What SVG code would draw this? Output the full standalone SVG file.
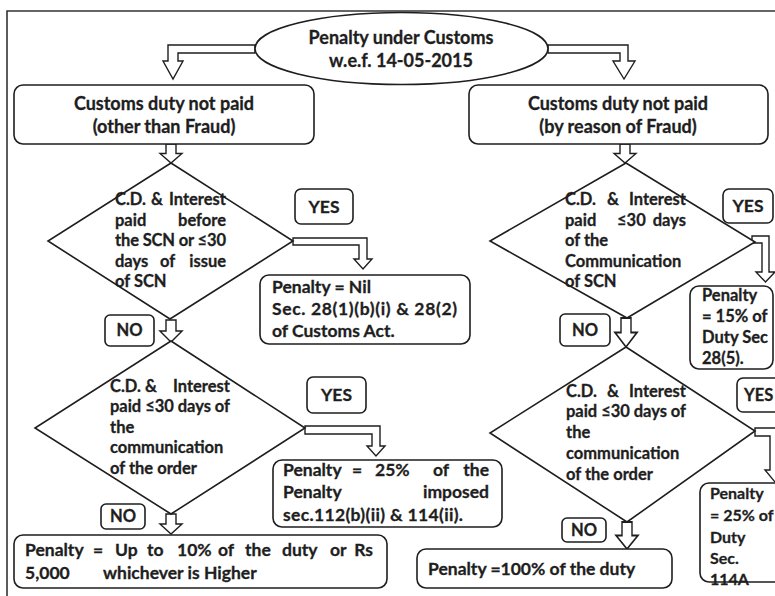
<svg xmlns="http://www.w3.org/2000/svg" width="775" height="596" viewBox="0 0 775 596">
<style>
  .shape { fill: #ffffff; stroke: #1e1e1e; stroke-width: 1.6; }
  .arrow { fill: #ffffff; stroke: #1e1e1e; stroke-width: 1.4; stroke-linejoin: miter; }
  .frame { fill: none; stroke: #333333; stroke-width: 1.6; }
  text { font-family: Lato, "Liberation Sans", sans-serif; font-weight: bold; font-size: 17.5px; fill: #1e1e1e; stroke: #1e1e1e; stroke-width: 0.3; }
  .big { font-size: 18px; }
  .sm { font-size: 16.5px; }
  .xs { font-size: 16px; }
  .c { text-anchor: middle; }
  .e { text-anchor: end; }
</style>
<defs>
  <path id="vArrow" d="M -5 0 H 5 V 10 H 11 L 0 20 L -11 10 H -5 Z"/>
</defs>
<rect width="775" height="596" fill="#ffffff" stroke="none"/>
<path class="frame" d="M 7 596 V 11 H 776"/>

<g id="connectors">
  <polygon class="arrow" points="255,45 168,45 168,61 163,61 173,79 183,61 178,61 178,53 255,53"/>
  <polygon class="arrow" points="548,45 628,45 628,61 635,61 624,79 613,61 620,61 620,53 548,53"/>
  <use href="#vArrow" class="arrow" transform="translate(171,144) scale(1,0.95)"/>
  <use href="#vArrow" class="arrow" transform="translate(625,144) scale(1,0.95)"/>
  <use href="#vArrow" class="arrow" transform="translate(171,320) scale(1,1.1)"/>
  <use href="#vArrow" class="arrow" transform="translate(626,318) scale(1,1.45)"/>
  <use href="#vArrow" class="arrow" transform="translate(171,514) scale(1,1)"/>
  <use href="#vArrow" class="arrow" transform="translate(627,522) scale(1,1.35)"/>
  <polygon class="arrow" points="293,238 367,238 367,259 372,259 363,269 354,259 359,259 359,245 293,245"/>
  <polygon class="arrow" points="305,426 380,426 380,446 385,446 376,456 367,446 372,446 372,434 305,434"/>
  <polygon class="arrow" points="752,236 769,236 769,272 775,272 765.5,282 756,272 762,272 762,243 752,243"/>
  <polygon class="arrow" points="755,428 780,428 780,470 785,470 775,482 765,470 770,470 770,436 755,436"/>
</g>

<g id="start">
  <ellipse class="shape" cx="401.5" cy="48.5" rx="146.5" ry="36"/>
  <text class="c big" x="401" y="44">Penalty under Customs</text>
  <text class="c big" x="401" y="67">w.e.f. 14-05-2015</text>
</g>

<g id="box-other">
  <rect class="shape" x="14" y="85" width="300" height="59" rx="9"/>
  <text class="c big" x="164" y="110">Customs duty not paid</text>
  <text class="c big" x="164" y="133">(other than Fraud)</text>
</g>

<g id="box-fraud">
  <rect class="shape" x="469" y="85" width="299" height="59" rx="9"/>
  <text class="c big" x="618" y="110">Customs duty not paid</text>
  <text class="c big" x="618" y="133">(by reason of Fraud)</text>
</g>

<g id="diamond1">
  <polygon class="shape" points="171,163 293,241 170,319 48,241"/>
  <text class="sm" y="205"><tspan x="115">C.D.</tspan><tspan x="151">&amp;</tspan><tspan x="226" class="e">Interest</tspan></text>
  <text class="sm" y="226"><tspan x="115">paid</tspan><tspan x="226" class="e">before</tspan></text>
  <text class="sm" y="246" x="115" textLength="111" lengthAdjust="spacing">the SCN or ≤30</text>
  <text class="sm" y="267"><tspan x="115">days</tspan><tspan x="160">of</tspan><tspan x="226" class="e">issue</tspan></text>
  <text class="sm" y="287" x="115">of SCN</text>
</g>

<g id="yes1">
  <rect class="shape" x="295" y="189" width="58" height="35" rx="6"/>
  <text class="c" x="324" y="213">YES</text>
</g>

<g id="nil">
  <rect class="shape" x="260" y="275" width="210" height="69" rx="9"/>
  <text x="272" y="293">Penalty = Nil</text>
  <text x="272" y="315" textLength="185" lengthAdjust="spacing">Sec. 28(1)(b)(i) &amp; 28(2)</text>
  <text x="272" y="337">of Customs Act.</text>
</g>

<g id="no1">
  <rect class="shape" x="105" y="315" width="49" height="31" rx="5"/>
  <text class="c sm" x="129.5" y="336">NO</text>
</g>

<g id="diamond2">
  <polygon class="shape" points="171,341 305,428 171,514 35,428"/>
  <text class="sm" y="392"><tspan x="110">C.D.</tspan><tspan x="145">&amp;</tspan><tspan x="230" class="e">Interest</tspan></text>
  <text class="sm" y="412" x="110" textLength="120" lengthAdjust="spacing">paid ≤30 days of</text>
  <text class="sm" y="433" x="110">the</text>
  <text class="sm" y="453" x="110">communication</text>
  <text class="sm" y="474" x="110">of the order</text>
</g>

<g id="yes2">
  <rect class="shape" x="307" y="377" width="59" height="36" rx="6"/>
  <text class="c" x="336.5" y="401">YES</text>
</g>

<g id="pen25">
  <rect class="shape" x="273" y="460" width="229" height="67" rx="9"/>
  <text y="476"><tspan x="283">Penalty</tspan><tspan x="352">=</tspan><tspan x="375">25%</tspan><tspan x="433">of</tspan><tspan x="489" class="e">the</tspan></text>
  <text y="498"><tspan x="283">Penalty</tspan><tspan x="489" class="e">imposed</tspan></text>
  <text y="521" x="283" textLength="180" lengthAdjust="spacing">sec.112(b)(ii) &amp; 114(ii).</text>
</g>

<g id="no2">
  <rect class="shape" x="101" y="504" width="44" height="25" rx="5"/>
  <text class="c sm" x="123" y="522">NO</text>
</g>

<g id="pen10">
  <rect class="shape" x="14" y="535" width="373" height="53" rx="9"/>
  <text y="556"><tspan x="25">Penalty</tspan><tspan x="93">=</tspan><tspan x="115">Up</tspan><tspan x="147">to</tspan><tspan x="177">10%</tspan><tspan x="218">of</tspan><tspan x="245">the</tspan><tspan x="282">duty</tspan><tspan x="330">or</tspan><tspan x="373" class="e">Rs</tspan></text>
  <text y="579"><tspan x="25">5,000</tspan><tspan x="103">whichever is Higher</tspan></text>
</g>

<g id="diamond3">
  <polygon class="shape" points="626,163 755,242 627,318 490,241"/>
  <text class="sm" y="205"><tspan x="565">C.D.</tspan><tspan x="607">&amp;</tspan><tspan x="686" class="e">Interest</tspan></text>
  <text class="sm" y="226"><tspan x="565">paid</tspan><tspan x="617">≤30</tspan><tspan x="686" class="e">days</tspan></text>
  <text class="sm" y="246" x="565">of the</text>
  <text class="sm" y="267" x="565">Communication</text>
  <text class="sm" y="287" x="565">of SCN</text>
</g>

<g id="yes3">
  <rect class="shape" x="723" y="189" width="50" height="34" rx="6"/>
  <text class="c" x="748" y="212">YES</text>
</g>

<g id="pen15">
  <rect class="shape" x="690" y="286" width="83" height="83" rx="9"/>
  <text class="sm" x="702" y="301">Penalty</text>
  <text class="sm" x="702" y="322">= 15% of</text>
  <text class="sm" x="702" y="343">Duty Sec</text>
  <text class="sm" x="702" y="364">28(5).</text>
</g>

<g id="no3">
  <rect class="shape" x="560" y="314" width="50" height="32" rx="5"/>
  <text class="c sm" x="585" y="336">NO</text>
</g>

<g id="diamond4">
  <polygon class="shape" points="626,347 755,431 627,522 490,433"/>
  <text class="sm" y="397"><tspan x="566">C.D.</tspan><tspan x="607">&amp;</tspan><tspan x="686" class="e">Interest</tspan></text>
  <text class="sm" y="417" x="566" textLength="120" lengthAdjust="spacing">paid ≤30 days of</text>
  <text class="sm" y="438" x="566">the</text>
  <text class="sm" y="459" x="566">communication</text>
  <text class="sm" y="480" x="566">of the order</text>
</g>

<g id="yes4">
  <rect class="shape" x="737" y="378" width="50" height="34" rx="6"/>
  <text class="sm" x="744" y="401">YES</text>
</g>

<g id="pen25b">
  <rect class="shape" x="700" y="483" width="90" height="99" rx="9"/>
  <text class="xs" x="710" y="499">Penalty</text>
  <text class="xs" x="710" y="521">= 25% of</text>
  <text class="xs" x="710" y="543">Duty</text>
  <text class="xs" x="710" y="564">Sec.</text>
  <text class="xs" x="710" y="585">114A</text>
</g>

<g id="no4">
  <rect class="shape" x="562" y="518" width="44" height="24" rx="5"/>
  <text class="c sm" x="584" y="536">NO</text>
</g>

<g id="pen100">
  <rect class="shape" x="417" y="549" width="255" height="39" rx="9"/>
  <text x="428" y="575">Penalty =100% of the duty</text>
</g>
</svg>
